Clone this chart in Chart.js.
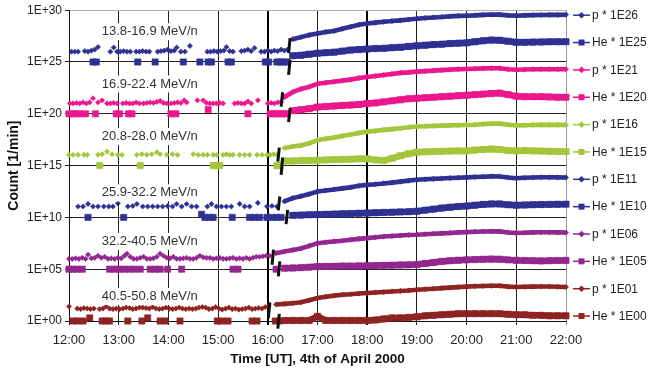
<!DOCTYPE html>
<html><head><meta charset="utf-8">
<script src="https://cdn.jsdelivr.net/npm/chart.js@4.4.1/dist/chart.umd.min.js"></script>
<style>html,body{margin:0;padding:0;background:#fff;}canvas{display:block;}</style>
</head><body>
<canvas id="c" width="648" height="371"></canvas>
<script>
// ---------- DATA (time in minutes after 12:00 UT, values as log10 of scaled count) ----------
const timeTickValues = [0,60,120,180,240,300,360,420,480,540,600];
const timeLabels = ['12:00','13:00','14:00','15:00','16:00','17:00','18:00','19:00','20:00','21:00','22:00'];
const yTickExps = [0,5,10,15,20,25,30];
const yTickLabels = ['1E+00','1E+05','1E+10','1E+15','1E+20','1E+25','1E+30'];
const seriesLabels = ['p * 1E26','He * 1E25','p * 1E21','He * 1E20','p * 1E16','He * 1E15','p * 1E11','He * 1E10','p * 1E06','He * 1E05','p * 1E01','He * 1E00'];
const energyLabels = ['13.8-16.9 MeV/n','16.9-22.4 MeV/n','20.8-28.0 MeV/n','25.9-32.2 MeV/n','32.2-40.5 MeV/n','40.5-50.8 MeV/n'];

// shared sampling of the event period
const postTimes = [240,250,260,270,280,290,300,310,320,330,340,350,360,370,380,390,400,410,420,430,440,450,460,470,480,490,500,510,520,530,540,550,560,570,580,590,600];

// pre-event sparse points
const p1PreT = [3,7,11,19,23,27,31,35,50,54,58,62,66,70,74,81,85,89,93,97,107,111,115,119,123,127,130,135,140,146,167,171,175,179,183,187,190,194,198,208,212,216,220,224,232,236,240,244,248,252,256,260,264];
const p1PreV = [26.0,26.0,26.0,26.05,26.0,26.1,26.2,26.45,26.0,26.4,26.0,26.0,26.05,26.0,26.0,26.0,26.0,26.05,26.0,26.0,26.0,26.05,26.1,26.2,26.05,26.1,26.4,26.0,26.0,26.55,26.0,26.0,26.05,26.0,26.05,26.1,26.45,26.05,26.0,26.05,26.1,26.2,26.05,26.35,26.0,26.0,26.1,26.0,26.1,26.05,26.2,26.1,26.2];
const he1PreT = [29,33,83,104,138,158,168,172,192,196,237,241,251,255,259,263];
const he1PreV = [25,25,25,25,25,25,25,25,25,25,25,25,25,25,25,25];
const p2PreT = [1,5,9,13,17,21,25,29,35,40,46,50,54,58,65,69,73,77,81,85,90,94,98,102,106,110,114,118,123,127,131,135,139,142,155,162,166,170,174,178,182,186,200,204,208,212,216,220,228,240,244,248,252,256];
const p2PreV = [21.0,21.0,21.05,21.0,21.1,21.0,21.1,21.5,21.1,21.3,21.0,21.0,21.05,21.0,21.0,21.05,21.0,21.0,21.1,21.0,21.0,21.05,21.1,21.05,21.15,21.25,21.05,21.0,21.0,21.05,21.1,21.05,21.3,21.1,21.3,21.3,21.05,21.0,21.0,21.0,21.05,21.0,21.0,21.05,21.0,21.0,21.2,21.0,21.3,21.0,21.05,21.0,21.1,21.15];
const he2PreT = [0,4,8,13,20,32,57,61,72,76,123,129,168,216,243,247,251,255,259,263];
const he2PreV = [20,20,20,20,20,20,20,20,20,20,20,20,20.4,20,20,20,20,20,20,20];
const p3PreT = [0,5,11,18,22,35,40,46,52,59,64,82,88,94,100,106,110,118,125,131,150,156,162,167,174,178,186,190,194,198,206,212,218,227,233,239,243,247,251];
const p3PreV = [16.04,16.04,16.04,16.04,16.04,16.04,16.1,16.35,16.1,16.04,16.04,16.04,16.1,16.04,16.1,16.3,16.1,16.04,16.1,16.04,16.1,16.04,16.04,16.04,16.04,16.04,16.04,16.1,16.04,16.04,16.04,16.04,16.04,16.04,16.04,16.04,16.04,16.1,16.04];
const he3PreT = [37,86,174,178,182,251,255];
const he3PreV = [15,15,15,15,15,15,15];
const p4PreT = [11,17,23,29,35,42,48,53,59,71,77,82,89,95,101,107,113,119,125,130,136,142,148,154,167,172,178,184,190,196,206,212,218,228,239,245,251];
const p4PreV = [11.05,11.05,11.3,11.05,11.05,11.05,11.05,11.05,11.35,11.05,11.1,11.3,11.05,11.05,11.05,11.05,11.05,11.1,11.05,11.3,11.05,11.3,11.05,11.05,11.05,11.3,11.05,11.05,11.05,11.05,11.3,11.05,11.05,11.4,11.05,11.1,11.05];
const he4PreT = [23,66,160,164,170,174,197,218,224,230,239,245,251,256];
const he4PreV = [10,10,10.3,10,10,10,10,10,10,10,10,10,10,10];
const p5PreT = [0,4,8,12,16,20,23,27,31,35,39,43,47,51,55,59,63,67,70,74,78,82,86,90,94,98,102,106,110,114,118,122,126,130,134,138,142,146,150,154,158,162,166,170,174,178,182,186,190,194,198,202,206,210,214,218,222,226,230,234,238,242];
const p5PreV = [6.0,6.0,6.05,6.0,6.1,6.0,6.4,6.05,6.1,6.3,6.1,6.2,6.0,6.05,6.0,6.1,6.05,6.3,6.5,6.2,6.0,6.0,6.1,6.2,6.0,6.0,6.05,6.2,6.5,6.3,6.1,6.05,6.2,6.0,6.0,6.05,6.1,6.0,6.0,6.1,6.3,6.15,6.1,6.1,6.0,6.05,6.1,6.0,6.0,6.05,6.1,6.0,6.05,6.0,6.1,6.0,6.1,6.2,6.2,6.25,6.3,6.3];
const he5PreT = [0,5,10,16,49,55,61,67,73,79,86,98,104,110,119,136,198,204,250];
const he5PreV = [5,5,5,5,5,5,5,5,5,5,5,5,5,5,5,5,5,5,5];
const p6PreT = [0,10,14,18,22,26,30,37,41,45,49,53,57,61,65,69,73,77,81,85,89,93,97,101,105,109,113,117,121,125,129,133,137,141,145,149,153,157,161,165,169,173,177,181,185,189,193,197,201,205,209,213,217,221,225,229,233,237,241];
const p6PreV = [1.4,1.2,1.15,1.25,1.2,1.15,1.2,1.15,1.2,1.4,1.2,1.15,1.2,1.15,1.2,1.3,1.25,1.15,1.2,1.3,1.3,1.25,1.2,1.35,1.2,1.15,1.2,1.3,1.2,1.15,1.2,1.3,1.2,1.15,1.2,1.15,1.2,1.3,1.35,1.3,1.15,1.2,1.35,1.2,1.1,1.2,1.3,1.15,1.2,1.1,1.15,1.2,1.3,1.15,1.2,1.25,1.2,1.35,1.45];
const he6PreT = [5,10,17,25,40,45,49,71,88,95,110,116,134,179,185,192,221,227,249,254];
const he6PreV = [0,0,0,0.3,0,0,0,0,0,0.3,0,0,0,0,0,0,0,0,0,0];

// event period values on postTimes
const p1Post = [null,null,null,27.2,27.4,27.6,27.75,27.9,28.0,28.2,28.4,28.6,28.72,28.8,28.88,28.95,29.02,29.1,29.18,29.25,29.3,29.35,29.4,29.45,29.47,29.5,29.55,29.58,29.57,29.5,29.47,29.5,29.52,29.54,29.55,29.55,29.56];
const he1Post = [null,null,null,25.6,25.65,25.75,25.85,25.9,25.95,26.05,26.15,26.2,26.25,26.3,26.32,26.38,26.42,26.5,26.56,26.62,26.68,26.72,26.78,26.82,26.85,26.95,27.05,27.12,27.1,27.0,26.9,26.9,26.92,26.93,26.95,26.95,26.96];
const p2Post = [null,null,21.6,22.1,22.4,22.6,22.9,23.0,23.1,23.2,23.3,23.45,23.55,23.65,23.75,23.85,23.95,24.0,24.07,24.12,24.17,24.22,24.26,24.3,24.32,24.35,24.38,24.4,24.4,24.3,24.25,24.27,24.3,24.3,24.3,24.3,24.3];
const he2Post = [null,null,null,20.3,20.4,20.5,20.65,20.7,20.75,20.8,20.85,20.9,21.0,21.05,21.15,21.25,21.35,21.45,21.5,21.55,21.6,21.65,21.7,21.75,21.8,21.85,21.9,21.95,22.0,21.85,21.7,21.65,21.65,21.65,21.63,21.6,21.6];
const p3Post = [null,null,16.7,16.85,16.95,17.15,17.45,17.6,17.7,17.85,18.0,18.15,18.28,18.35,18.45,18.52,18.6,18.7,18.77,18.8,18.83,18.86,18.88,18.9,18.92,18.95,19.0,19.05,19.05,18.95,18.88,18.9,18.92,18.93,18.93,18.93,18.93];
const he3Post = [null,null,15.45,15.45,15.5,15.5,15.52,15.55,15.58,15.6,15.62,15.65,15.65,15.55,15.5,15.7,15.95,16.15,16.3,16.33,16.36,16.38,16.4,16.42,16.42,16.5,16.55,16.6,16.55,16.45,16.42,16.45,16.42,16.4,16.38,16.36,16.35];
const p4Post = [null,null,11.55,11.86,12.05,12.25,12.5,12.6,12.7,12.8,12.9,13.05,13.14,13.2,13.28,13.36,13.45,13.55,13.63,13.68,13.72,13.76,13.8,13.83,13.86,13.9,13.93,13.96,13.95,13.85,13.78,13.82,13.85,13.87,13.87,13.86,13.85];
const he4Post = [null,null,null,10.2,10.22,10.25,10.27,10.3,10.32,10.35,10.37,10.4,10.42,10.45,10.48,10.5,10.53,10.55,10.6,10.7,10.8,10.9,10.98,11.05,11.1,11.18,11.25,11.3,11.3,11.22,11.18,11.2,11.22,11.24,11.25,11.27,11.28];
const p5Post = [null,6.55,6.7,6.85,7.0,7.25,7.5,7.6,7.68,7.75,7.85,7.93,8.0,8.08,8.15,8.2,8.25,8.3,8.33,8.38,8.42,8.46,8.5,8.55,8.58,8.62,8.64,8.66,8.65,8.55,8.5,8.52,8.55,8.56,8.56,8.55,8.54];
const he5Post = [null,null,5.1,5.12,5.15,5.2,5.25,5.27,5.28,5.3,5.3,5.32,5.33,5.35,5.37,5.39,5.41,5.42,5.45,5.55,5.65,5.75,5.82,5.87,5.9,5.93,5.96,5.98,5.97,5.9,5.86,5.84,5.82,5.8,5.82,5.84,5.85];
const p6Post = [null,1.6,1.65,1.72,1.8,2.0,2.22,2.35,2.45,2.54,2.58,2.65,2.7,2.75,2.8,2.85,2.9,2.95,3.02,3.07,3.12,3.17,3.22,3.27,3.32,3.36,3.38,3.4,3.4,3.32,3.28,3.3,3.32,3.33,3.33,3.3,3.28];
const he6Post = [null,null,0.05,0.05,0.05,0.05,0.45,0.05,0.05,0.05,0.05,0.05,0.05,0.1,0.2,0.3,0.3,0.35,0.4,0.5,0.55,0.6,0.65,0.7,0.7,0.7,0.7,0.7,0.7,0.65,0.6,0.6,0.55,0.55,0.5,0.5,0.5];

// onset markers (time, upper and lower log10 extent)
const markT  = [266,266,257,266,253,257,253.6,263,246,253.6,241.6,253];
const markHi = [27.3,25.2,22.08,20.54,16.74,15.78,12.02,10.73,6.88,5.75,1.79,0.68];
const markLo = [25.85,23.75,20.7,19.19,15.39,14.1,10.67,9.35,5.43,4.3,0.29,-0.74];

// ---------- STYLE / BUILD ----------
const FONT = '"Liberation Sans", Arial, Helvetica, sans-serif';
const BLUE = '#2e3192', PINK = '#ec178c', GREEN = '#a5c63b', PURPLE = '#93278f', RED = '#8e2323';
const seriesColors = [BLUE,BLUE,PINK,PINK,GREEN,GREEN,BLUE,BLUE,PURPLE,PURPLE,RED,RED];
const pre = [[p1PreT,p1PreV],[he1PreT,he1PreV],[p2PreT,p2PreV],[he2PreT,he2PreV],[p3PreT,p3PreV],[he3PreT,he3PreV],[p4PreT,p4PreV],[he4PreT,he4PreV],[p5PreT,p5PreV],[he5PreT,he5PreV],[p6PreT,p6PreV],[he6PreT,he6PreV]];
const post = [p1Post,he1Post,p2Post,he2Post,p3Post,he3Post,p4Post,he4Post,p5Post,he5Post,p6Post,he6Post];
const E = v => Math.pow(10, v);

function buildSeries(preT, preV, postV){
  const pts = [];
  const n = Math.min(preT.length, preV.length);
  for (let i = 0; i < n; i++) {
    pts.push({x: preT[i], y: E(preV[i])});
    pts.push({x: preT[i] + 0.01, y: null});
  }
  for (let i = 0; i < postTimes.length; i++) {
    if (postV[i] !== null && postV[i] !== undefined) pts.push({x: postTimes[i], y: E(postV[i])});
  }
  return pts;
}

const markData = [];
markT.forEach((t, i) => {
  markData.push({x: t + 0.9, y: E(markHi[i])});
  markData.push({x: t - 0.9, y: E(markLo[i])});
  markData.push({x: t + 0.05, y: null});
});

const datasets = [{
  label: 'marks', data: markData, borderColor: '#111', backgroundColor: '#111',
  borderWidth: 3, pointRadius: 0, showLine: true, spanGaps: false, clip: false
}];
seriesLabels.forEach((lab, i) => {
  const isP = i % 2 === 0;
  datasets.push({
    label: lab,
    data: buildSeries(pre[i][0], pre[i][1], post[i]),
    borderColor: seriesColors[i], backgroundColor: seriesColors[i],
    pointBorderColor: seriesColors[i], pointBackgroundColor: seriesColors[i],
    borderWidth: isP ? 4.6 : 6.5,
    pointStyle: isP ? 'rectRot' : 'rect',
    pointRadius: isP ? 2.6 : 4.4,
    pointBorderWidth: 0.6,
    showLine: true, spanGaps: false, clip: false, tension: 0
  });
});

const labelPlugin = {
  id: 'energyLabels',
  afterDatasetsDraw(chart) {
    const ctx = chart.ctx, xs = chart.scales.x, ys = chart.scales.y;
    const yExp = [27.93, 22.88, 17.8, 12.37, 7.68, 2.37];
    ctx.save();
    ctx.font = '13px ' + FONT;
    ctx.textBaseline = 'middle';
    ctx.textAlign = 'left';
    energyLabels.forEach((t, i) => {
      const x = xs.getPixelForValue(39.5), y = ys.getPixelForValue(E(yExp[i]));
      const w = ctx.measureText(t).width;
      ctx.fillStyle = '#fff';
      ctx.fillRect(x - 3, y - 8.5, w + 6, 17);
      ctx.fillStyle = '#333';
      ctx.fillText(t, x, y);
    });
    ctx.restore();
  }
};

const legendPlugin = {
  id: 'sideLegend',
  afterDraw(chart) {
    const ctx = chart.ctx, a = chart.chartArea;
    ctx.save();
    ctx.font = '12px ' + FONT;
    ctx.textBaseline = 'middle';
    seriesLabels.forEach((lab, i) => {
      const y = a.top + 5 + i * 27.35;
      const c = seriesColors[i];
      const x0 = a.right + 7, x1 = a.right + 24, xm = (x0 + x1) / 2;
      ctx.strokeStyle = c; ctx.lineWidth = 1.5;
      ctx.beginPath(); ctx.moveTo(x0, y); ctx.lineTo(x1, y); ctx.stroke();
      ctx.fillStyle = c;
      ctx.beginPath();
      if (i % 2 === 0) {
        ctx.moveTo(xm, y - 3.3); ctx.lineTo(xm + 3.3, y); ctx.lineTo(xm, y + 3.3); ctx.lineTo(xm - 3.3, y);
        ctx.closePath(); ctx.fill();
      } else {
        ctx.fillRect(xm - 3, y - 3, 6, 6);
      }
      ctx.fillStyle = '#222';
      ctx.fillText(lab, a.right + 26, y + 0.5);
    });
    ctx.restore();
  }
};

new Chart(document.getElementById('c'), {
  type: 'line',
  data: { datasets },
  plugins: [labelPlugin, legendPlugin],
  options: {
    responsive: false, animation: false, devicePixelRatio: 1,
    layout: { padding: { left: 0, right: 82, top: 10, bottom: 0 } },
    plugins: { legend: { display: false }, tooltip: { enabled: false } },
    elements: { line: { tension: 0 } },
    scales: {
      x: {
        type: 'linear', min: 0, max: 600,
        afterBuildTicks: s => { s.ticks = timeTickValues.map(v => ({ value: v })); },
        ticks: { callback: (v, i) => timeLabels[i], font: { family: FONT, size: 13 }, color: '#222', padding: 8, maxRotation: 0, autoSkip: false },
        grid: {
          color: c => (c.tick && c.tick.value === 600) ? '#9a9a9a' : ((c.tick && (c.tick.value === 240 || c.tick.value === 360)) ? '#000' : '#222'),
          lineWidth: c => (c.tick && (c.tick.value === 240 || c.tick.value === 360)) ? 2 : 1,
          tickLength: 4, drawTicks: true
        },
        border: { display: true, color: '#111', width: 1 },
        title: { display: true, text: 'Time [UT], 4th of April 2000', font: { family: FONT, size: 13.5, weight: 'bold' }, color: '#111', padding: { top: 2, bottom: 4 } },
        afterFit: s => { s.height = 50; }
      },
      y: {
        type: 'logarithmic', min: 1, max: 1e30,
        afterBuildTicks: s => { s.ticks = yTickExps.map(e => ({ value: E(e) })); },
        ticks: { callback: (v, i) => yTickLabels[i], font: { family: FONT, size: 12 }, color: '#222', padding: 3, autoSkip: false },
        grid: {
          color: c => (c.tick && c.tick.value >= 0.99e30) ? '#b0b0b0' : '#222',
          tickColor: '#222',
          lineWidth: 1, tickLength: 4, drawTicks: true
        },
        border: { display: true, color: '#111', width: 1 },
        title: { display: true, text: 'Count [1/min]', font: { family: FONT, size: 14, weight: 'bold' }, color: '#111', padding: { top: 6, bottom: 2 } },
        afterFit: s => { s.width = 69; }
      }
    }
  }
});
</script>
</body></html>
